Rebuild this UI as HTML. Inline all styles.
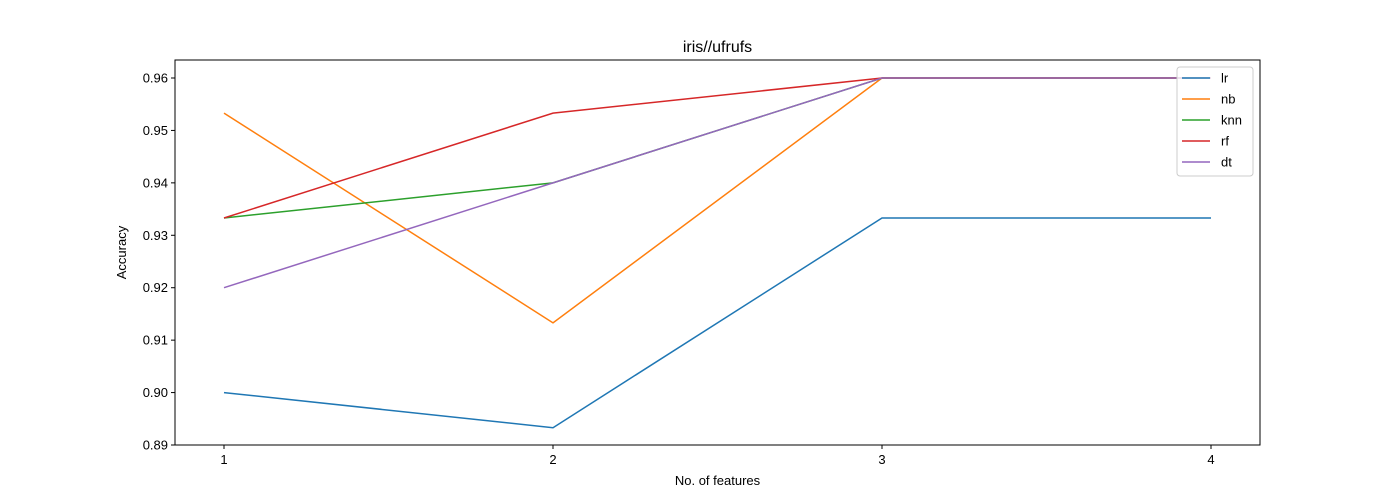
<!DOCTYPE html>
<html><head><meta charset="utf-8"><style>
body{margin:0;background:#fff;}
svg{display:block;font-family:"Liberation Sans","DejaVu Sans",sans-serif;}
</style></head><body>
<svg id="chart" width="1400" height="500"></svg>
<script>
const categories = [1, 2, 3, 4];
const lrValues = [0.9, 0.8933, 0.9333, 0.9333];
const nbValues = [0.9533, 0.9133, 0.96, 0.96];
const knnValues = [0.9333, 0.94, 0.96, 0.96];
const rfValues = [0.9333, 0.9533, 0.96, 0.96];
const dtValues = [0.92, 0.94, 0.96, 0.96];
const yTicks = [0.89, 0.90, 0.91, 0.92, 0.93, 0.94, 0.95, 0.96];
const seriesNames = ["lr", "nb", "knn", "rf", "dt"];

const NS = "http://www.w3.org/2000/svg";
const svg = document.getElementById("chart");
const L = 175, R = 1260, T = 60, B = 445;
const x = v => 224 + (v - 1) * (1211 - 224) / 3;
const y = v => 445 - (v - 0.89) * (445 - 78) / 0.07;
function mk(tag, attrs, parent) {
  const e = document.createElementNS(NS, tag);
  for (const k in attrs) e.setAttribute(k, attrs[k]);
  (parent || svg).appendChild(e);
  return e;
}
const colors = ["#1f77b4", "#ff7f0e", "#2ca02c", "#d62728", "#9467bd"];
const allSeries = [lrValues, nbValues, knnValues, rfValues, dtValues];

// title
let t = mk("text", {x: (L + R) / 2, y: 52, "text-anchor": "middle", "font-size": 16, fill: "#000"});
t.textContent = "iris//ufrufs";



// series
allSeries.forEach((vals, i) => {
  const p = mk("polyline", {points: vals.map((v, j) => x(categories[j]) + "," + y(v)).join(" "), fill: "none", stroke: colors[i], "stroke-width": 1.5});
  
  
});

// axes frame
const frame = mk("rect", {x: L, y: T, width: R - L, height: B - T, fill: "none", stroke: "#000", "stroke-width": 1});



// x ticks
categories.forEach(c => {
  mk("line", {x1: x(c), x2: x(c), y1: B, y2: B + 4, stroke: "#000"});
  const tx = mk("text", {x: x(c), y: B + 19, "text-anchor": "middle", "font-size": 13});
  tx.textContent = c;
  
  
});
// y ticks
yTicks.forEach(v => {
  mk("line", {x1: L - 4, x2: L, y1: y(v), y2: y(v), stroke: "#000"});
  const ty = mk("text", {x: L - 7, y: y(v) + 4.5, "text-anchor": "end", "font-size": 13});
  ty.textContent = v.toFixed(2);
  
  
});
const xt = mk("text", {x: (L + R) / 2, y: 485, "text-anchor": "middle", "font-size": 13});
xt.textContent = "No. of features";


const yt = mk("text", {x: 126, y: (T + B) / 2, "text-anchor": "middle", "font-size": 13, transform: "rotate(-90 126 " + (T + B) / 2 + ")"});
yt.textContent = "Accuracy";



// legend
const lg = mk("g", {});


mk("rect", {x: 1177, y: 67, width: 76, height: 109, rx: 3, fill: "#fff", "fill-opacity": 0.8, stroke: "#ccc"}, lg);
seriesNames.forEach((n, i) => {
  const g = mk("g", {}, lg);
  
  
  const yy = 78 + i * 21;
  mk("line", {x1: 1182, x2: 1210, y1: yy, y2: yy, stroke: colors[i], "stroke-width": 1.5}, g);
  const tx = mk("text", {x: 1221, y: yy + 4.5, "font-size": 13}, g);
  tx.textContent = n;
});
</script>
</body></html>
